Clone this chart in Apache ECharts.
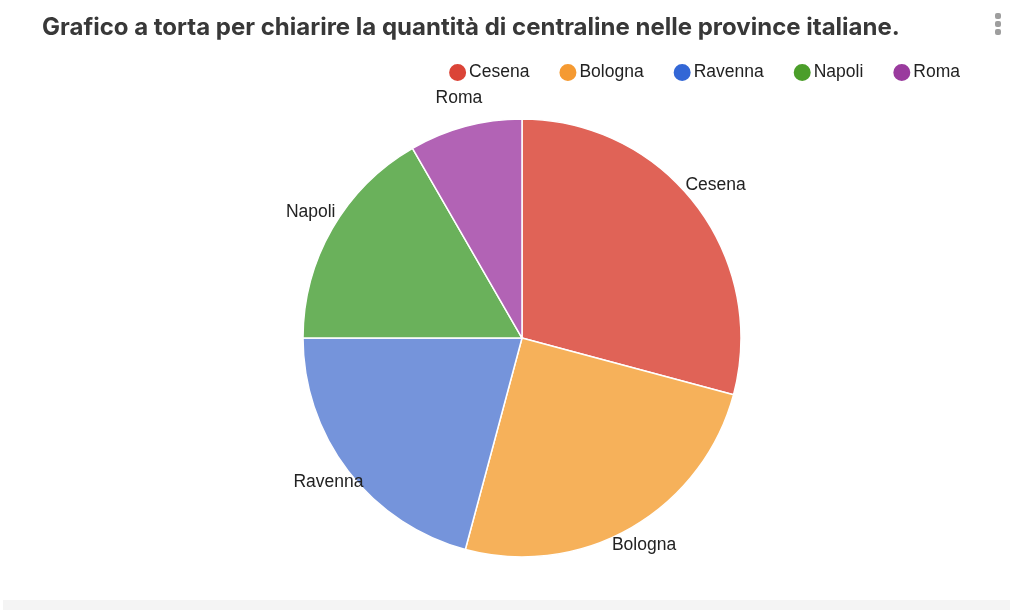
<!DOCTYPE html>
<html>
<head>
<meta charset="utf-8">
<script src="https://cdn.jsdelivr.net/npm/echarts@6/dist/echarts.min.js"></script>
<style>
  html, body { margin: 0; padding: 0; background: #fff; }
  #chart { width: 1010px; height: 610px; }
</style>
</head>
<body>
<div id="chart"></div>
<script>
// Numero di centraline per provincia
const province = ['Cesena', 'Bologna', 'Ravenna', 'Napoli', 'Roma'];
const centraline = [7, 6, 5, 4, 2];
const coloriFette = ['#e06357', '#f6b15a', '#7594db', '#6ab15b', '#b263b5'];
const coloriLegenda = ['#db4437', '#f59a32', '#3367d6', '#4b9e2a', '#9a3b9e'];
const titolo = 'Grafico a torta per chiarire la quantità di centraline nelle province italiane.';

const dati = province.map((nome, i) => ({ name: nome, value: centraline[i] }));

const chart = echarts.init(document.getElementById('chart'), null, { renderer: 'canvas' });

chart.setOption({
  animation: false,
  backgroundColor: '#ffffff',
  title: {
    text: titolo,
    left: 37,
    top: 11,
    textStyle: {
      fontFamily: 'Inter',
      fontWeight: 700,
      fontSize: 24,
      color: '#383838'
    }
  },
  legend: {
    right: 45,
    top: 57,
    icon: 'circle',
    itemWidth: 19,
    itemHeight: 19,
    itemGap: 28,
    selectedMode: false,
    textStyle: {
      fontFamily: 'Liberation Sans',
      fontSize: 17.5,
      color: '#222',
      padding: [0, 0, 0, -3]
    },
    data: province.map((nome, i) => ({ name: nome, itemStyle: { color: coloriLegenda[i] } }))
  },
  graphic: [
    // menu a tre punti
    { type: 'rect', shape: { x: 995, y: 13, width: 6, height: 6, r: 2 }, style: { fill: '#9e9e9e' } },
    { type: 'rect', shape: { x: 995, y: 21, width: 6, height: 6, r: 2 }, style: { fill: '#9e9e9e' } },
    { type: 'rect', shape: { x: 995, y: 29, width: 6, height: 6, r: 2 }, style: { fill: '#9e9e9e' } },
    // fascia inferiore
    { type: 'rect', shape: { x: 3, y: 600, width: 1007, height: 10 }, style: { fill: '#f4f4f4' } }
  ],
  series: [
    {
      name: 'Centraline',
      type: 'pie',
      center: [522, 338],
      radius: 219,
      startAngle: 90,
      clockwise: true,
      label: { show: false },
      labelLine: { show: false },
      itemStyle: {
        borderColor: '#ffffff',
        borderWidth: 1.5,
        color: (p) => coloriFette[p.dataIndex]
      },
      data: dati
    },
    {
      // anello trasparente che porta le etichette fuori dalla torta
      name: 'Etichette',
      type: 'pie',
      center: [522, 334],
      radius: [225, 257],
      startAngle: 90,
      clockwise: true,
      silent: true,
      legendHoverLink: false,
      itemStyle: { color: 'rgba(0,0,0,0)' },
      label: {
        show: true,
        position: 'inside',
        formatter: '{b}',
        fontFamily: 'Liberation Sans',
        fontSize: 17.5,
        color: '#222'
      },
      labelLine: { show: false },
      emphasis: { disabled: true },
      data: dati
    }
  ]
});
</script>
</body>
</html>
